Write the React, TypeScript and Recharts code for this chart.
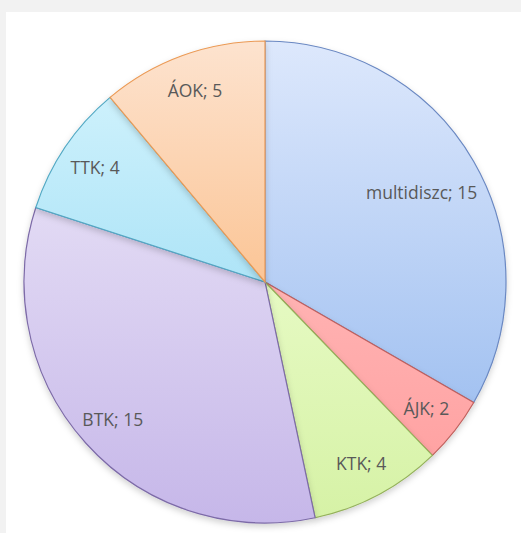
import { Cell, Pie, PieChart } from "recharts"

const categories = ["multidiszc", "ÁJK", "KTK", "BTK", "TTK", "ÁOK"]
const counts = [15, 2, 4, 15, 4, 5]

const fillTop = ["#dde8fc", "#ffb3b3", "#e6fac3", "#e2daf4", "#cdf1fc", "#fde3cf"]
const fillBottom = ["#a3c2f1", "#ffa3a3", "#d6f2a6", "#c6b7e9", "#aee4f7", "#fbc596"]
const strokes = ["#6a88c2", "#c0605d", "#94b15a", "#7d6ba8", "#53a9c4", "#eb9a55"]

const data = categories.map((name, i) => ({ name, value: counts[i] }))

const RADIAN = Math.PI / 180
const FONT_SIZE = 17.5

// pull a label inwards until its box sits inside the pie (like Excel's best fit)
function renderLabel(props: any) {
  const { cx, cy, midAngle, outerRadius, index } = props
  const text = `${categories[index]}; ${counts[index]}`
  const halfW = (text.length * FONT_SIZE * 0.47) / 2
  const halfH = FONT_SIZE * 0.5
  const cos = Math.cos(-midAngle * RADIAN)
  const sin = Math.sin(-midAngle * RADIAN)
  const limit = outerRadius * 0.985
  let r = outerRadius * 0.85
  while (r > 0) {
    const dx = Math.abs(r * cos) + halfW
    const dy = Math.abs(r * sin) + halfH
    if (Math.hypot(dx, dy) <= limit) break
    r -= 2
  }
  const x = cx + r * cos
  const y = cy + r * sin
  return (
    <text
      x={x}
      y={y}
      fill="#595959"
      fontSize={FONT_SIZE}
      fontFamily="Open Sans"
      textAnchor="middle"
      dominantBaseline="central"
    >
      {text}
    </text>
  )
}

export default function App() {
  return (
    <div style={{ position: "absolute", left: 0, top: 0, width: 521, height: 533, background: "#f2f2f2" }}>
      <div style={{ position: "absolute", left: 6, top: 12, right: 0, bottom: 0, background: "#ffffff" }} />
      <div style={{ position: "absolute", left: 0, top: 0 }}>
        <PieChart width={521} height={533} margin={{ top: 0, right: 0, bottom: 0, left: 0 }}>
          <defs>
            {categories.map((c, i) => (
              <linearGradient key={c} id={`grad${i}`} x1="0" y1="0" x2="0" y2="1">
                <stop offset="0%" stopColor={fillTop[i]} />
                <stop offset="100%" stopColor={fillBottom[i]} />
              </linearGradient>
            ))}
            <filter id="shadow" x="-10%" y="-10%" width="120%" height="120%">
              <feDropShadow dx="0" dy="3" stdDeviation="3" floodColor="#000" floodOpacity="0.18" />
            </filter>
          </defs>
          <Pie
            data={data}
            dataKey="value"
            nameKey="name"
            cx={265}
            cy={282}
            outerRadius={241}
            startAngle={90}
            endAngle={-270}
            labelLine={false}
            label={renderLabel}
            isAnimationActive={false}
            strokeWidth={1.2}
            style={{ filter: "url(#shadow)" }}
          >
            {data.map((d, i) => (
              <Cell key={d.name} fill={`url(#grad${i})`} stroke={strokes[i]} />
            ))}
          </Pie>
        </PieChart>
      </div>
    </div>
  )
}
